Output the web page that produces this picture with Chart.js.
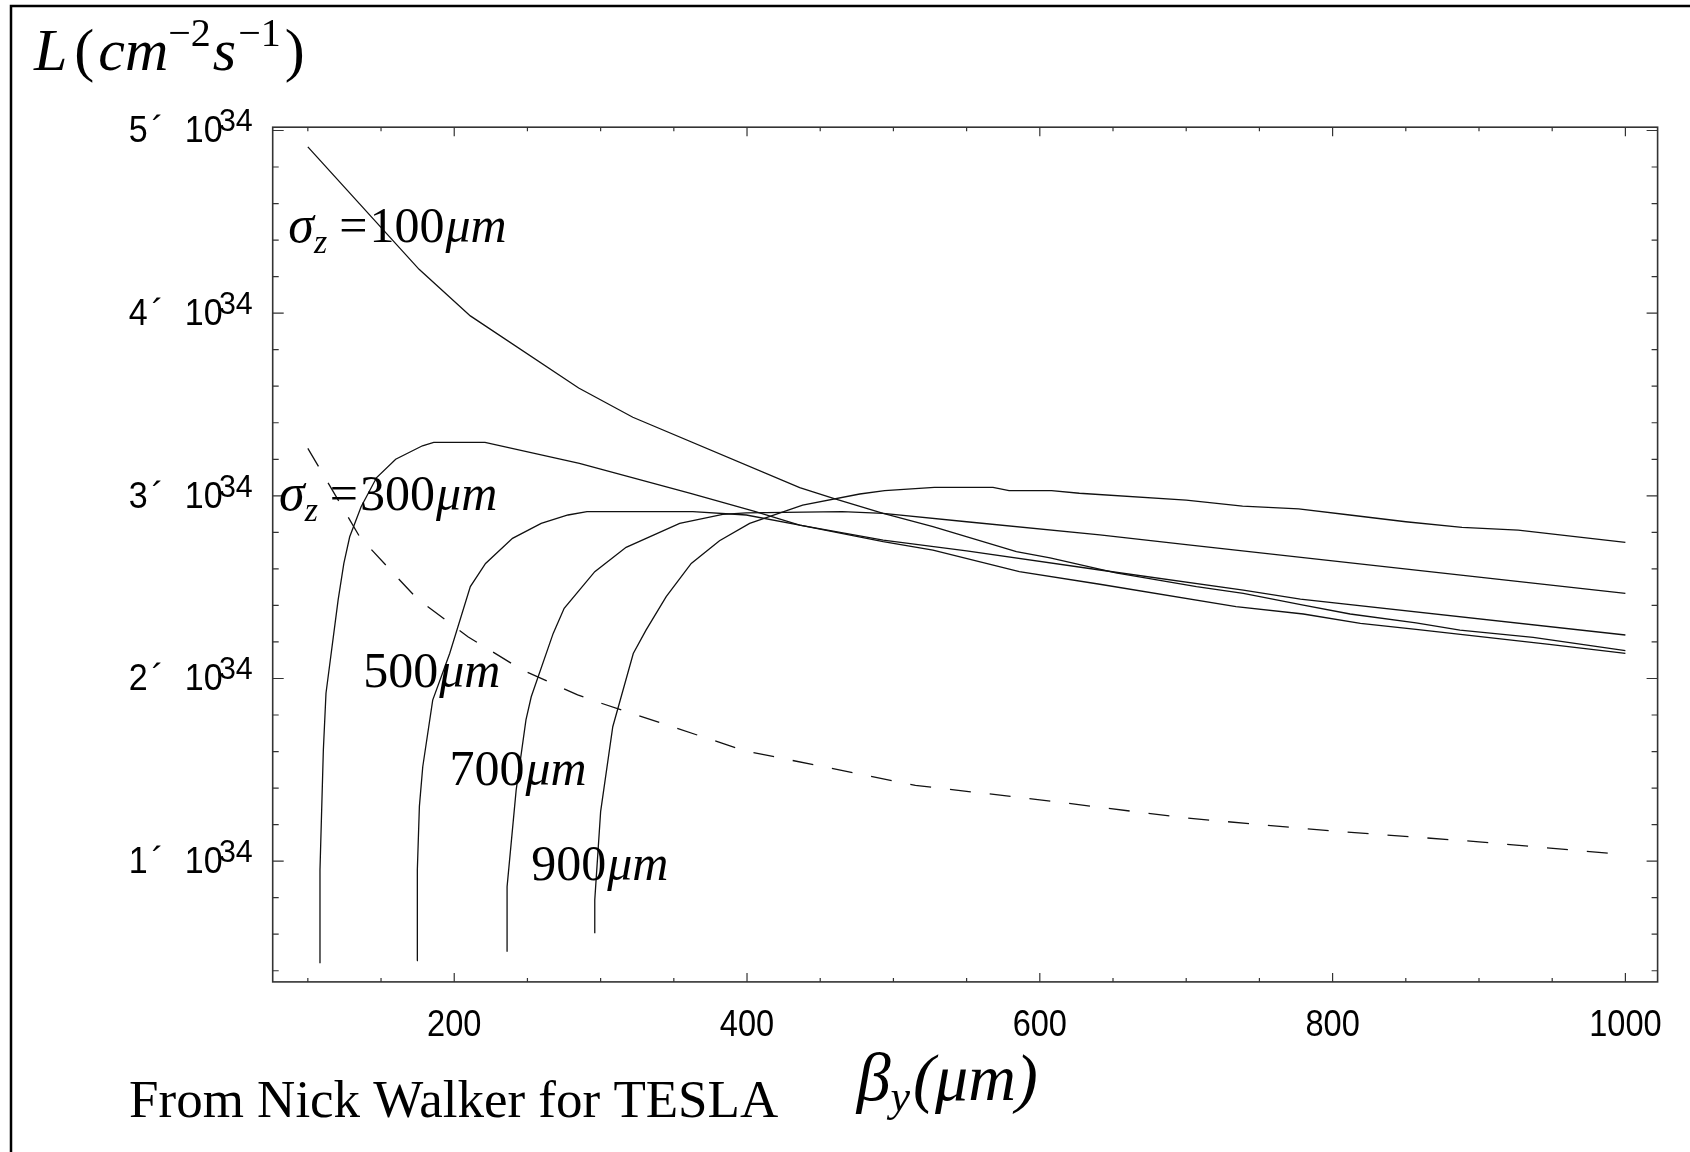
<!DOCTYPE html>
<html>
<head>
<meta charset="utf-8">
<title>Luminosity vs beta_y</title>
<script src="https://cdn.jsdelivr.net/npm/chart.js@4.4.0/dist/chart.umd.min.js"></script>
<style>
  html, body { margin: 0; padding: 0; background: #fff; }
  #wrap { width: 1690px; height: 1152px; }
</style>
</head>
<body>
<div id="wrap"><canvas id="chart" width="1690" height="1152"></canvas></div>
<script>
// beta_y in micrometres, luminosity in units of 10^34 cm^-2 s^-1
const sz100X = [100, 176, 211, 285, 322, 436, 459, 493, 527, 584, 607, 652, 707, 739, 780, 812, 857, 887, 937, 1000];
const sz100Y = [4.91, 4.24, 3.985, 3.59, 3.43, 3.045, 2.986, 2.904, 2.831, 2.694, 2.66, 2.578, 2.503, 2.466, 2.402, 2.353, 2.305, 2.265, 2.225, 2.152];

const sz300X = [108.3, 108.3, 110.6, 112.4, 120.7, 124.6, 128.6, 136.4, 147, 160, 178.3, 186, 221, 285.5, 361.4, 405.8, 436, 493, 527, 586, 641, 734, 780, 819, 857, 948, 1000];
const sz300Y = [0.441, 0.952, 1.608, 1.919, 2.43, 2.63, 2.776, 2.94, 3.10, 3.20, 3.274, 3.293, 3.293, 3.178, 3.014, 2.913, 2.84, 2.749, 2.703, 2.585, 2.516, 2.393, 2.353, 2.302, 2.269, 2.187, 2.137];

const sz500X = [174.6, 174.8, 176.2, 178.5, 185.3, 196.9, 211, 221.4, 239.8, 259.4, 277.7, 290.7, 363, 399.5, 436, 493, 550, 641, 739, 778, 1000];
const sz500Y = [0.455, 0.952, 1.30, 1.517, 1.882, 2.137, 2.503, 2.63, 2.767, 2.849, 2.895, 2.913, 2.913, 2.895, 2.84, 2.758, 2.699, 2.594, 2.484, 2.434, 2.238];

const sz700X = [236.1, 236.1, 242.3, 249, 252.6, 267.6, 275.1, 296, 317.4, 354, 383.4, 399.5, 465, 493, 550, 641, 700, 1000];
const sz700Y = [0.504, 0.86, 1.389, 1.773, 1.90, 2.247, 2.384, 2.585, 2.718, 2.849, 2.899, 2.907, 2.913, 2.904, 2.858, 2.786, 2.733, 2.466];

const sz900X = [296, 296, 300, 308.3, 322.3, 331, 344.8, 361.9, 381.2, 401.8, 438, 477, 494, 528, 568, 579, 608, 627, 700, 738.5, 776.8, 811.7, 850, 888.4, 926.8, 1000];
const sz900Y = [0.605, 0.788, 1.271, 1.736, 2.137, 2.265, 2.448, 2.63, 2.754, 2.849, 2.949, 3.01, 3.028, 3.046, 3.046, 3.028, 3.028, 3.014, 2.977, 2.944, 2.929, 2.895, 2.858, 2.827, 2.812, 2.745];

const dashedX = [100, 135.7, 174.4, 209.6, 246, 284.3, 298, 398.6, 515, 600, 700, 800, 900, 1000];
const dashedY = [3.26, 2.772, 2.439, 2.227, 2.049, 1.91, 1.871, 1.604, 1.415, 1.336, 1.236, 1.165, 1.106, 1.035];

const xMajorTicks = [200, 400, 600, 800, 1000];
const xMinorTicks = [100, 150, 250, 300, 350, 450, 500, 550, 650, 700, 750, 850, 900, 950];
const yMajorTicks = [1, 2, 3, 4, 5];
const yMinorTicks = [0.4, 0.6, 0.8, 1.2, 1.4, 1.6, 1.8, 2.2, 2.4, 2.6, 2.8, 3.2, 3.4, 3.6, 3.8, 4.2, 4.4, 4.6, 4.8];
const yExponent = '34';

// curve labels, anchored in data coordinates (left edge, baseline)
const curveLabelX = [86.7, 80.3, 137.8, 196.7, 252.6];
const curveLabelY = [4.391, 2.922, 1.955, 1.417, 0.897];
const curveLabelValue = ['100', '300', '500', '700', '900'];
const curveLabelSigma = [true, true, false, false, false];

const SERIF = '"Liberation Serif", "Times New Roman", serif';
const SANS = '"Liberation Sans", Arial, sans-serif';

function toPoints(xs, ys) {
    return xs.map((x, i) => ({ x: x, y: ys[i] }));
}

function curve(label, xs, ys, dash) {
    return {
        label: label,
        data: toPoints(xs, ys),
        borderColor: '#111',
        borderWidth: 1.3,
        borderDash: dash || [],
        pointRadius: 0,
        tension: 0,
        fill: false
    };
}

// draws a row of text pieces one after another
function drawRuns(ctx, x, y, runs) {
    ctx.textAlign = 'left';
    ctx.textBaseline = 'alphabetic';
    runs.forEach(r => {
        x += r.gap || 0;
        ctx.font = r.f;
        ctx.fillText(r.t, x, y + (r.dy || 0));
        x += ctx.measureText(r.t).width;
    });
}

// text squeezed a little sideways, like the narrow tick font of the original
function narrowText(ctx, text, x, y, squeeze) {
    ctx.save();
    ctx.translate(x, y);
    ctx.scale(squeeze, 1);
    ctx.fillText(text, 0, 0);
    ctx.restore();
}

const framePlugin = {
    id: 'frame',
    afterDraw(chart) {
        const ctx = chart.ctx;
        const a = chart.chartArea;
        const xs = chart.scales.x;
        const ys = chart.scales.y;
        ctx.save();
        ctx.fillStyle = '#000';

        // outer border of the slide
        ctx.strokeStyle = '#000';
        ctx.lineWidth = 2.5;
        ctx.beginPath();
        ctx.moveTo(11, 1152);
        ctx.lineTo(11, 6);
        ctx.lineTo(1690, 6);
        ctx.stroke();

        // plot frame
        ctx.strokeStyle = '#333';
        ctx.lineWidth = 1.6;
        ctx.strokeRect(a.left, a.top, a.width, a.height);

        // ticks on all four sides, pointing inward
        ctx.lineWidth = 1.2;
        ctx.beginPath();
        xMajorTicks.concat(xMinorTicks).forEach(v => {
            const px = xs.getPixelForValue(v);
            const len = xMajorTicks.includes(v) ? 9 : 4;
            ctx.moveTo(px, a.bottom); ctx.lineTo(px, a.bottom - len);
            ctx.moveTo(px, a.top); ctx.lineTo(px, a.top + len);
        });
        yMajorTicks.concat(yMinorTicks).forEach(v => {
            const py = ys.getPixelForValue(v);
            const len = yMajorTicks.includes(v) ? 11 : 6;
            ctx.moveTo(a.left, py); ctx.lineTo(a.left + len, py);
            ctx.moveTo(a.right, py); ctx.lineTo(a.right - len, py);
        });
        ctx.stroke();

        // x tick labels
        ctx.font = '37px ' + SANS;
        ctx.textAlign = 'center';
        ctx.textBaseline = 'alphabetic';
        xMajorTicks.forEach(v => {
            narrowText(ctx, String(v), xs.getPixelForValue(v), a.bottom + 54, 0.88);
        });

        // y tick labels like "5´ 10^34"
        yMajorTicks.forEach(v => {
            const py = ys.getPixelForValue(v);
            ctx.textAlign = 'right';
            ctx.font = '32px ' + SANS;
            narrowText(ctx, yExponent, a.left - 20, py + 1, 0.95);
            ctx.font = '37px ' + SANS;
            narrowText(ctx, '10', a.left - 50, py + 12, 0.92);
            narrowText(ctx, String(v), a.left - 125, py + 12, 0.92);
            ctx.textAlign = 'center';
            ctx.fillText('\u00B4', a.left - 115, py + 12);
        });

        // curve labels
        curveLabelX.forEach((lx, i) => {
            const px = xs.getPixelForValue(lx);
            const py = ys.getPixelForValue(curveLabelY[i]);
            const runs = [];
            if (curveLabelSigma[i]) {
                runs.push({ t: '\u03C3', f: 'italic 52px ' + SERIF });
                runs.push({ t: 'z', f: 'italic 34px ' + SERIF, dy: 11 });
                runs.push({ t: '=', f: '50px ' + SERIF, gap: 12 });
                runs.push({ t: curveLabelValue[i], f: '50px ' + SERIF, gap: 2 });
            } else {
                runs.push({ t: curveLabelValue[i], f: '50px ' + SERIF });
            }
            runs.push({ t: '\u03BCm', f: 'italic 50px ' + SERIF, gap: 1 });
            drawRuns(ctx, px, py, runs);
        });

        // y axis title
        drawRuns(ctx, 34, 70, [
            { t: 'L', f: 'italic 60px ' + SERIF },
            { t: '(', f: '60px ' + SERIF, gap: 7 },
            { t: 'cm', f: 'italic 60px ' + SERIF, gap: 4 },
            { t: '\u22122', f: '40px ' + SERIF, dy: -24 },
            { t: 's', f: 'italic 60px ' + SERIF, gap: 2 },
            { t: '\u22121', f: '40px ' + SERIF, dy: -24, gap: 2 },
            { t: ')', f: '60px ' + SERIF, gap: 4 }
        ]);

        // x axis title
        drawRuns(ctx, a.left + 584, 1100, [
            { t: '\u03B2', f: 'italic 68px ' + SERIF },
            { t: 'y', f: 'italic 44px ' + SERIF, dy: 11 },
            { t: '(\u03BCm)', f: 'italic 66px ' + SERIF, gap: 3 }
        ]);

        // credit line
        drawRuns(ctx, 129, 1117, [
            { t: 'From Nick Walker for TESLA', f: '53px ' + SERIF }
        ]);

        ctx.restore();
    }
};

const ctx = document.getElementById('chart').getContext('2d');
new Chart(ctx, {
    type: 'line',
    data: {
        datasets: [
            curve('sigma_z = 100 um', sz100X, sz100Y),
            curve('sigma_z = 300 um', sz300X, sz300Y),
            curve('sigma_z = 500 um', sz500X, sz500Y),
            curve('sigma_z = 700 um', sz700X, sz700Y),
            curve('sigma_z = 900 um', sz900X, sz900Y),
            curve('dashed', dashedX, dashedY, [21, 19])
        ]
    },
    options: {
        responsive: false,
        animation: false,
        devicePixelRatio: 1,
        layout: { padding: { left: 272.7, top: 127.2, right: 32.4, bottom: 170.1 } },
        plugins: {
            legend: { display: false },
            tooltip: { enabled: false }
        },
        scales: {
            x: { type: 'linear', min: 76, max: 1022, display: false },
            y: { type: 'linear', min: 0.339, max: 5.018, display: false }
        }
    },
    plugins: [framePlugin]
});
</script>
</body>
</html>
